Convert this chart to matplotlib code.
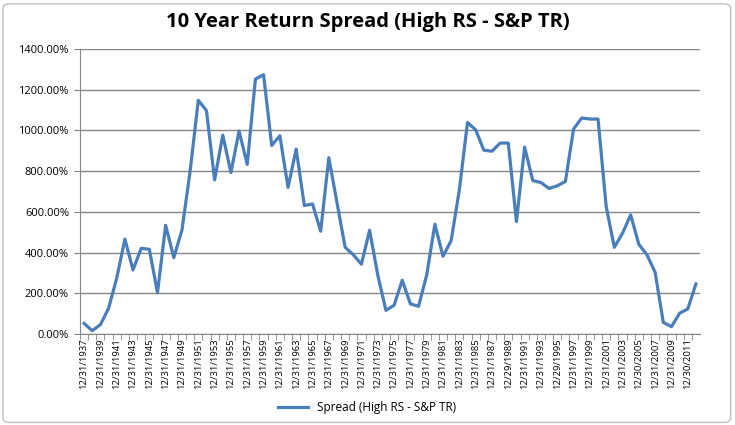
import matplotlib
matplotlib.use("Agg")
import matplotlib.pyplot as plt
from matplotlib.patches import FancyBboxPatch

years = list(range(1937, 2013))
spread = [52, 16, 46, 126, 274, 466, 315, 421, 416, 203,
          534, 375, 511, 800, 1148, 1097, 757, 977, 793, 997,
          833, 1252, 1274, 926, 974, 720, 908, 631, 639, 505,
          866, 646, 426, 389, 343, 510, 290, 116, 141, 264,
          148, 136, 290, 539, 382, 459, 708, 1039, 1003, 903,
          898, 938, 938, 552, 918, 754, 744, 715, 728, 749,
          1007, 1061, 1056, 1056, 626, 426, 495, 585, 441, 389,
          303, 57, 36, 102, 123, 246]
odd_days = {1989: "12/29", 1995: "12/29", 2005: "12/30", 2011: "12/30"}
labels = [odd_days.get(y, "12/31") + "/" + str(y) for y in years]

plt.rcParams['font.family'] = ['Open Sans', 'DejaVu Sans']

fig = plt.figure(figsize=(7.35, 4.25), dpi=100)
# chart area border
fig.patches.append(FancyBboxPatch((0.004, 0.006), 0.99, 0.985,
                                  boxstyle="round,pad=0,rounding_size=0.01",
                                  transform=fig.transFigure, fill=False,
                                  edgecolor="#bfbfbf", linewidth=1))

ax = fig.add_axes([80/735, 1-334/425, 620/735, 285/425])
x = list(range(len(years)))
ax.plot(x, spread, color="#4A7EBB", linewidth=2.3, label="Spread (High RS - S&P TR)")

ax.set_xlim(-0.5, len(years)-0.5)
ax.set_ylim(0, 1400)
ax.set_yticks(range(0, 1401, 200))
ax.set_yticklabels(["%.2f%%" % v for v in range(0, 1401, 200)], fontsize=8)
ax.set_xticks(x[::2])
ax.set_xticklabels(labels[::2], rotation=90, fontsize=6.8)
ax.set_xticks([i + 0.5 for i in x[:-1]] + [-0.5], minor=True)
ax.tick_params(axis='x', which='major', length=0, pad=3)
ax.tick_params(axis='x', which='minor', length=4, color="#868686", direction='out')
ax.tick_params(axis='y', length=4, color="#868686", direction='out', pad=4)

ax.grid(axis='y', color="#868686", linewidth=1)
ax.set_axisbelow(True)
for s in ['top', 'right']:
    ax.spines[s].set_visible(False)
for s in ['left', 'bottom']:
    ax.spines[s].set_color("#868686")

fig.text(0.5, 1-22/425, "10 Year Return Spread (High RS - S&P TR)", ha='center', va='center',
         fontsize=14.5, fontweight='bold')
fig.legend(loc='center', bbox_to_anchor=(0.5, 1-408/425), frameon=False, fontsize=8.5,
           handlelength=2.5)

fig.savefig("out.png", dpi=100)
